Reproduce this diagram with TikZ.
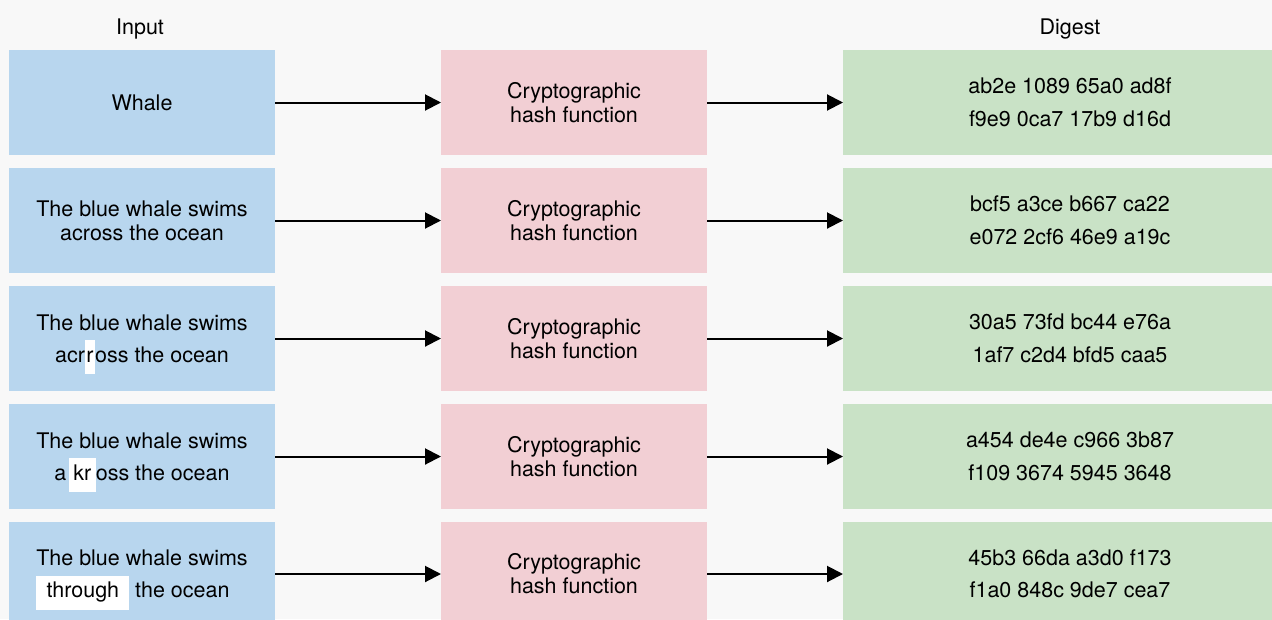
\documentclass[tikz,border=0pt]{standalone}
\usepackage{fontspec}
\setmainfont{TeX Gyre Heros}
\usetikzlibrary{arrows.meta}
\definecolor{bg}{HTML}{F8F8F8}
\definecolor{inblue}{HTML}{B8D6EE}
\definecolor{hpink}{HTML}{F2CFD4}
\definecolor{dgreen}{HTML}{C9E2C6}
\definecolor{ink}{HTML}{000000}
\newcommand\hlw[1]{\smash{\setlength{\fboxsep}{0pt}\colorbox{white}{\rule[-12pt]{0pt}{34pt}#1}}}
\tikzset{
  box/.style={anchor=north west, minimum height=105pt, inner sep=0pt, outer sep=0pt,
    text=ink, align=center, font=\fontsize{21.5}{24}\selectfont},
  inbox/.style={box, fill=inblue, minimum width=266pt},
  inboxw/.style={inbox, font=\fontsize{21.5}{32}\selectfont},
  hashbox/.style={box, fill=hpink, minimum width=266pt},
  digbox/.style={box, fill=dgreen, minimum width=454pt, font=\fontsize{21.5}{32.5}\selectfont},
  head/.style={text=ink, inner sep=0pt, font=\fontsize{21.5}{24}\selectfont},
  arr/.style={-{Triangle[length=16pt,width=16pt]}, line width=2pt, draw=black}
}
\begin{document}
\begin{tikzpicture}[x=1pt,y=-1pt]
\fill[bg] (0,0) rectangle (1272,619);
\clip (0,0) rectangle (1272,619);
\node[head] (hin) at (140,29) {Input};
\node[head] (hdig) at (1070,29) {Digest};
% row 1
\node[inbox] (in1) at (9,50) {Whale};
\node[hashbox] (h1) at (441,50) {Cryptographic\\hash function};
\node[digbox] (d1) at (843,50) {ab2e 1089 65a0 ad8f\\f9e9 0ca7 17b9 d16d};
% row 2
\node[inbox] (in2) at (9,168) {The blue whale swims\\across the ocean};
\node[hashbox] (h2) at (441,168) {Cryptographic\\hash function};
\node[digbox] (d2) at (843,168) {bcf5 a3ce b667 ca22\\e072 2cf6 46e9 a19c};
% row 3
\node[inboxw] (in3) at (9,286) {The blue whale swims\\acr\hlw{\hspace{1.5pt}r\hspace{1.5pt}}oss the ocean};
\node[hashbox] (h3) at (441,286) {Cryptographic\\hash function};
\node[digbox] (d3) at (843,286) {30a5 73fd bc44 e76a\\1af7 c2d4 bfd5 caa5};
% row 4
\node[inboxw] (in4) at (9,404) {The blue whale swims\\a\hspace{3pt}\hlw{\hspace{4pt}kr\hspace{4.5pt}}oss the ocean};
\node[hashbox] (h4) at (441,404) {Cryptographic\\hash function};
\node[digbox] (d4) at (843,404) {a454 de4e c966 3b87\\f109 3674 5945 3648};
% row 5
\node[inboxw] (in5) at (9,521.5) {The blue whale swims\\\hlw{\hspace{11pt}through\hspace{10pt}} the ocean\kern19pt\mbox{}};
\node[hashbox] (h5) at (441,521.5) {Cryptographic\\hash function};
\node[digbox] (d5) at (843,521.5) {45b3 66da a3d0 f173\\f1a0 848c 9de7 cea7};
% arrows
\foreach \i in {1,...,5}{
  \draw[arr] (in\i.east) -- (h\i.west);
  \draw[arr] (h\i.east) -- (d\i.west);
}
\end{tikzpicture}
\end{document}
